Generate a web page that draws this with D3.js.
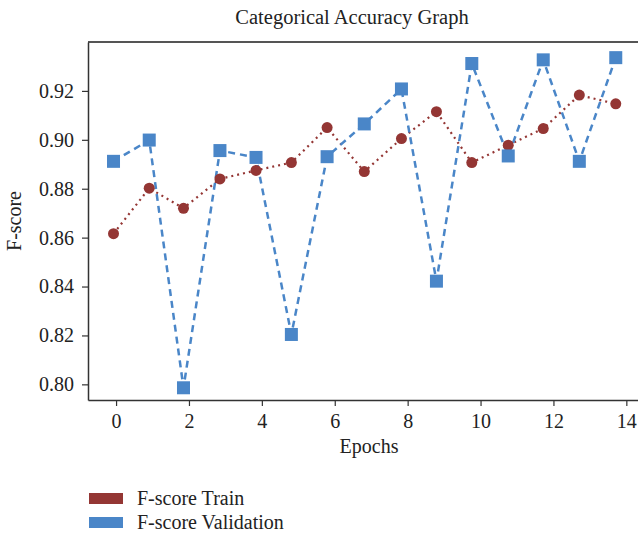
<!DOCTYPE html>
<html>
<head>
<meta charset="utf-8">
<script src="https://cdn.jsdelivr.net/npm/d3@7"></script>
<style>
  body { margin: 0; background: #fff; }
  text { font-family: "Liberation Serif", "DejaVu Serif", serif; fill: #222; }
</style>
</head>
<body>
<div id="chart"></div>
<script>
// data
var epochs = [-0.07, 0.91, 1.85, 2.85, 3.84, 4.81, 5.79, 6.81, 7.83, 8.79, 9.76, 10.76, 11.72, 12.71, 13.71];
var trainScore = [0.8616, 0.8802, 0.8720, 0.8840, 0.8875, 0.8907, 0.9050, 0.8870, 0.9005, 0.9115, 0.8907, 0.8978, 0.9046, 0.9183, 0.9147];
var validScore = [0.8912, 0.8999, 0.7986, 0.8956, 0.8928, 0.8204, 0.8931, 0.9065, 0.9208, 0.8422, 0.9312, 0.8934, 0.9327, 0.8912, 0.9336];
var xTicks = [0, 2, 4, 6, 8, 10, 12, 14];
var yTicks = [0.80, 0.82, 0.84, 0.86, 0.88, 0.90, 0.92];
var seriesNames = ["F-score Train", "F-score Validation"];
var colors = ["#943634", "#4a86c8"];

var W = 638, H = 537;
var margin = {top: 42, right: 0, bottom: 137, left: 88},
    width = W - margin.left - margin.right,
    height = H - margin.top - margin.bottom;

var svg = d3.select("#chart").append("svg")
    .attr("width", W).attr("height", H);

var g = svg.append("g")
    .attr("transform", "translate(" + margin.left + "," + margin.top + ")");

var x = d3.scaleLinear().domain([-0.77, 14.32]).range([0, width]);
var y = d3.scaleLinear().domain([0.7936, 0.940]).range([height, 0]);

// title
svg.append("text")
    .attr("x", 352).attr("y", 24)
    .attr("text-anchor", "middle")
    .style("font-size", "20.5px")
    .text("Categorical Accuracy Graph");

// top border
g.append("line")
    .attr("x1", 0).attr("x2", width)
    .attr("y1", 0).attr("y2", 0)
    .attr("stroke", "#555").attr("stroke-width", 2);

// axes
var xAxis = g.append("g")
    .attr("transform", "translate(0," + height + ")")
    .call(d3.axisBottom(x).tickValues(xTicks).tickSize(6).tickPadding(8).tickSizeOuter(0));
var yAxis = g.append("g")
    .call(d3.axisLeft(y).tickValues(yTicks).tickFormat(d3.format(".2f")).tickSize(6).tickPadding(8).tickSizeOuter(0));

[xAxis, yAxis].forEach(function(a) {
  a.select(".domain").attr("stroke", "#333").attr("stroke-width", 1.5);
  a.selectAll(".tick line").attr("stroke", "#333").attr("stroke-width", 1.2);
  a.selectAll(".tick text").attr("fill", "#222")
    .style("font-family", "Liberation Serif, DejaVu Serif, serif")
    .style("font-size", "20px");
});

// axis labels
g.append("text")
    .attr("x", 281).attr("y", height + 53)
    .attr("text-anchor", "middle")
    .style("font-size", "20px")
    .text("Epochs");

g.append("text")
    .attr("transform", "translate(-67," + (height / 2) + ") rotate(-90)")
    .attr("text-anchor", "middle")
    .style("font-size", "20px")
    .text("F-score");

var line = d3.line()
    .x(function(d) { return x(d[0]); })
    .y(function(d) { return y(d[1]); });

var trainPts = epochs.map(function(e, i) { return [e, trainScore[i]]; });
var validPts = epochs.map(function(e, i) { return [e, validScore[i]]; });

// train line (dotted)
g.append("path")
    .datum(trainPts)
    .attr("fill", "none")
    .attr("stroke", colors[0])
    .attr("stroke-width", 2.2)
    .attr("stroke-dasharray", "2,4")
    .attr("d", line);

// validation line (dashed)
g.append("path")
    .datum(validPts)
    .attr("fill", "none")
    .attr("stroke", colors[1])
    .attr("stroke-width", 2.5)
    .attr("stroke-dasharray", "7,5")
    .attr("d", line);

// train points
g.append("g").selectAll("circle")
    .data(trainPts)
    .enter().append("circle")
    .attr("cx", function(d) { return x(d[0]); })
    .attr("cy", function(d) { return y(d[1]); })
    .attr("r", 5.5)
    .attr("fill", colors[0]);

// validation points
var s = 13;
g.append("g").selectAll("rect")
    .data(validPts)
    .enter().append("rect")
    .attr("x", function(d) { return x(d[0]) - s / 2; })
    .attr("y", function(d) { return y(d[1]) - s / 2; })
    .attr("width", s).attr("height", s)
    .attr("fill", colors[1]);

// legend
var legend = svg.append("g").attr("transform", "translate(89,493)");
seriesNames.forEach(function(name, i) {
  legend.append("rect")
      .attr("x", 0).attr("y", i * 24)
      .attr("width", 34).attr("height", 11)
      .attr("fill", colors[i]);
  legend.append("text")
      .attr("x", 48).attr("y", i * 24 + 12)
      .style("font-size", "20px")
      .text(name);
});
</script>
</body>
</html>
